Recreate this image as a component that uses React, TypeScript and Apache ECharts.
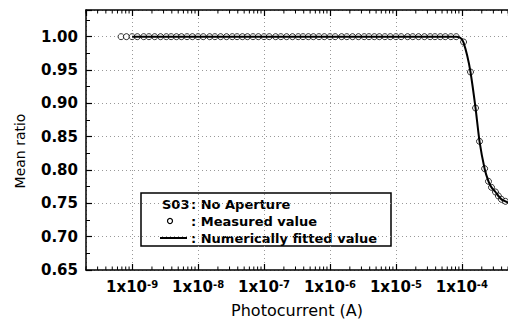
import React, { useEffect, useRef } from "react";
import * as echarts from "echarts";

// Measured points (current in A, mean ratio)
const measuredCurrent = [
  6.8e-10, 8.2e-10,
  1.0e-9, 1.2e-9, 1.5e-9, 1.8e-9, 2.2e-9, 2.7e-9, 3.3e-9, 3.9e-9, 4.7e-9, 5.6e-9, 6.8e-9, 8.2e-9,
  1.0e-8, 1.2e-8, 1.5e-8, 1.8e-8, 2.2e-8, 2.7e-8, 3.3e-8, 3.9e-8, 4.7e-8, 5.6e-8, 6.8e-8, 8.2e-8,
  1.0e-7, 1.2e-7, 1.5e-7, 1.8e-7, 2.2e-7, 2.7e-7, 3.3e-7, 3.9e-7, 4.7e-7, 5.6e-7, 6.8e-7, 8.2e-7,
  1.0e-6, 1.2e-6, 1.5e-6, 1.8e-6, 2.2e-6, 2.7e-6, 3.3e-6, 3.9e-6, 4.7e-6, 5.6e-6, 6.8e-6, 8.2e-6,
  1.0e-5, 1.2e-5, 1.5e-5, 1.8e-5, 2.2e-5, 2.7e-5, 3.3e-5, 3.9e-5, 4.7e-5, 5.6e-5, 6.8e-5, 8.2e-5,
  1.06e-4, 1.35e-4, 1.61e-4, 1.85e-4, 2.21e-4, 2.53e-4, 2.81e-4, 3.23e-4, 3.58e-4, 3.98e-4, 4.57e-4,
];
const measuredRatio = [
  1.0, 1.0,
  1.0, 1.0, 1.0, 1.0, 1.0, 1.0, 1.0, 1.0, 1.0, 1.0, 1.0, 1.0,
  1.0, 1.0, 1.0, 1.0, 1.0, 1.0, 1.0, 1.0, 1.0, 1.0, 1.0, 1.0,
  1.0, 1.0, 1.0, 1.0, 1.0, 1.0, 1.0, 1.0, 1.0, 1.0, 1.0, 1.0,
  1.0, 1.0, 1.0, 1.0, 1.0, 1.0, 1.0, 1.0, 1.0, 1.0, 1.0, 1.0,
  1.0, 1.0, 1.0, 1.0, 1.0, 1.0, 1.0, 1.0, 1.0, 1.0, 1.0, 1.0,
  0.992, 0.947, 0.893, 0.843, 0.802, 0.783, 0.774, 0.767, 0.761, 0.756, 0.753,
];

// Numerically fitted curve
const fitCurrent = [1.0e-9, 8.2e-5, 9.2e-5, 1.0e-4, 1.06e-4, 1.2e-4, 1.35e-4, 1.61e-4, 1.85e-4, 2.21e-4, 2.53e-4, 2.81e-4, 3.23e-4, 3.58e-4, 3.98e-4, 4.57e-4, 5.0e-4];
const fitRatio = [1.0, 1.0, 0.999, 0.996, 0.991, 0.972, 0.947, 0.893, 0.843, 0.802, 0.783, 0.774, 0.767, 0.761, 0.756, 0.753, 0.751];

// Axis settings
const xMin = 2e-10;
const xMax = 5e-4;
const yMin = 0.65;
const yMax = 1.04;
const yStep = 0.05;
const decades = [-10, -9, -8, -7, -6, -5, -4];
const minorMultipliers = [2, 3, 4, 5, 6, 7, 8, 9];

const FONT = "DejaVu Sans";

export default function App() {
  const ref = useRef<HTMLDivElement>(null);
  useEffect(() => {
    if (!ref.current) return;
    const chart = echarts.init(ref.current, null, { renderer: "svg" });

    const minorTicks: number[][] = [];
    decades.forEach((d) => {
      minorMultipliers.forEach((m) => {
        const v = m * Math.pow(10, d);
        if (v >= xMin && v <= xMax) minorTicks.push([v, yMin]);
      });
    });

    const grid = { left: 86, right: -2, top: 10, bottom: 52 };

    const xLabel = (value: number) => {
      const e = Math.log10(value);
      const r = Math.round(e);
      if (Math.abs(e - r) > 1e-6) return "";
      return `{b|1x10}{s|${r}}`;
    };

    const gridLine = { show: true, lineStyle: { color: "#999", type: [1, 3], width: 1 } };

    chart.setOption({
      animation: false,
      backgroundColor: "#fff",
      grid,
      xAxis: [
        {
          type: "log",
          logBase: 10,
          min: xMin,
          max: xMax,
          position: "bottom",
          name: "Photocurrent (A)",
          nameLocation: "middle",
          nameGap: 32,
          nameTextStyle: { fontFamily: FONT, fontSize: 16, color: "#000" },
          axisLine: { show: true, lineStyle: { color: "#000", width: 1.5 } },
          axisTick: { show: true, inside: true, length: 6, lineStyle: { color: "#000", width: 1.2 } },
          axisLabel: {
            margin: 9,
            showMinLabel: false,
            showMaxLabel: false,
            formatter: xLabel,
            rich: {
              b: { fontFamily: FONT, fontSize: 15, fontWeight: "bold", color: "#000", lineHeight: 16 },
              s: { fontFamily: FONT, fontSize: 10, fontWeight: "bold", color: "#000", lineHeight: 10, verticalAlign: "top" },
            },
          },
          splitLine: gridLine,
        },
        {
          type: "log",
          logBase: 10,
          min: xMin,
          max: xMax,
          position: "top",
          axisLine: { show: true, lineStyle: { color: "#000", width: 1.5 } },
          axisTick: { show: true, inside: true, length: 6, lineStyle: { color: "#000", width: 1.2 } },
          axisLabel: { show: false },
          splitLine: { show: false },
        },
      ],
      yAxis: {
        type: "value",
        min: yMin,
        max: yMax,
        interval: yStep,
        axisLine: { show: true, lineStyle: { color: "#000", width: 1.5 } },
        axisTick: { show: true, inside: true, length: 6, lineStyle: { color: "#000", width: 1.2 } },
        minorTick: { show: true, splitNumber: 2, length: 4, lineStyle: { color: "#000", width: 1 } },
        axisLabel: {
          margin: 8,
          showMaxLabel: false,
          fontFamily: FONT,
          fontSize: 15,
          fontWeight: "bold",
          color: "#000",
          formatter: (v: number) => v.toFixed(2),
        },
        splitLine: gridLine,
      },
      series: [
        {
          type: "custom",
          name: "minorTicks",
          silent: true,
          clip: false,
          xAxisIndex: 0,
          yAxisIndex: 0,
          data: minorTicks,
          renderItem: (params: any, api: any) => {
            const x = api.value(0);
            const pb = api.coord([x, yMin]);
            const pt = api.coord([x, yMax]);
            return {
              type: "group",
              children: [
                { type: "line", shape: { x1: pb[0], y1: pb[1], x2: pb[0], y2: pb[1] - 3.5 }, style: { stroke: "#000", lineWidth: 1 } },
                { type: "line", shape: { x1: pt[0], y1: pt[1], x2: pt[0], y2: pt[1] + 3.5 }, style: { stroke: "#000", lineWidth: 1 } },
              ],
            };
          },
          z: 5,
        },
        {
          type: "scatter",
          name: "Measured value",
          symbol: "circle",
          symbolSize: 6,
          itemStyle: { color: "#fff", borderColor: "#000", borderWidth: 1 },
          data: measuredCurrent.map((c, i) => [c, measuredRatio[i]]),
          z: 2,
        },
        {
          type: "line",
          name: "Numerically fitted value",
          showSymbol: false,
          smooth: 0.2,
          lineStyle: { color: "#000", width: 2 },
          data: fitCurrent.map((c, i) => [c, fitRatio[i]]),
          z: 3,
        },
      ],
      graphic: [
        {
          type: "text",
          x: 20,
          y: 151,
          rotation: Math.PI / 2,
          style: { text: "Mean ratio", fontFamily: FONT, fontSize: 14, fill: "#000", textAlign: "center", textVerticalAlign: "middle" },
        },
        {
          type: "group",
          z: 100,
          children: [
            { type: "rect", shape: { x: 141, y: 193, width: 250, height: 53 }, style: { fill: "#fff", stroke: "#000", lineWidth: 1.5 } },
            { type: "text", x: 162, y: 204, style: { text: "S03", fontFamily: FONT, fontSize: 13, fontWeight: "bold", fill: "#000", textVerticalAlign: "middle" } },
            { type: "text", x: 191, y: 204, style: { text: ": No Aperture", fontFamily: FONT, fontSize: 13, fontWeight: "bold", fill: "#000", textVerticalAlign: "middle" } },
            { type: "circle", shape: { cx: 170, cy: 221, r: 2.5 }, style: { fill: "#fff", stroke: "#000", lineWidth: 1.2 } },
            { type: "text", x: 191, y: 221, style: { text: ": Measured value", fontFamily: FONT, fontSize: 13, fontWeight: "bold", fill: "#000", textVerticalAlign: "middle" } },
            { type: "line", shape: { x1: 160, y1: 238, x2: 187, y2: 238 }, style: { stroke: "#000", lineWidth: 2 } },
            { type: "text", x: 191, y: 238, style: { text: ": Numerically fitted value", fontFamily: FONT, fontSize: 13, fontWeight: "bold", fill: "#000", textVerticalAlign: "middle" } },
          ],
        },
      ],
    });
    return () => chart.dispose();
  }, []);
  return <div ref={ref} style={{ position: "fixed", left: 0, top: 0, width: 508, height: 323, background: "#fff" }} />;
}
